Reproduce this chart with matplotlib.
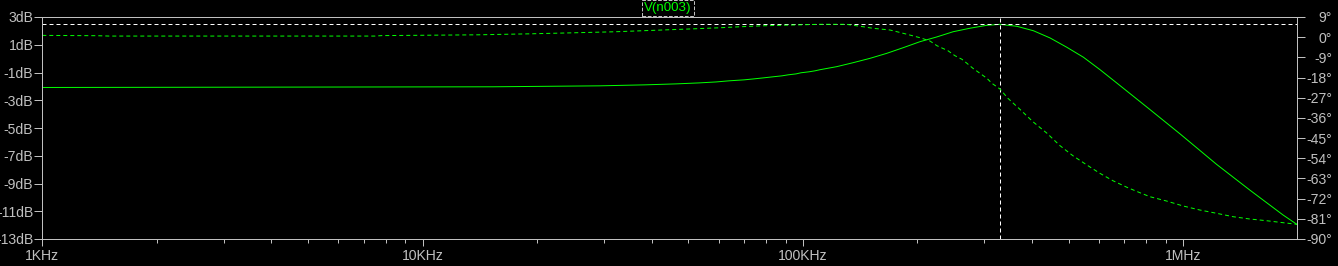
import matplotlib
matplotlib.use('Agg')
import matplotlib.pyplot as plt
from matplotlib.ticker import LogLocator, NullFormatter

# magnitude trace (solid)
freq_mag = [1e3, 15.3e3, 29.3e3, 38.4e3, 46.4e3, 53.3e3, 59.1e3, 63.9e3, 70e3,
            74.3e3, 78.5e3, 83.4e3, 88.1e3, 91.3e3, 95.9e3, 98.8e3, 103.7e3,
            107.5e3, 110.8e3, 122.6e3, 135.6e3, 150e3, 166e3, 183.5e3, 203e3,
            224.6e3, 248.3e3, 274.8e3, 304e3, 329.5e3, 365e3, 403.5e3, 446.3e3,
            493.8e3, 546.1e3, 604.1e3, 668.6e3, 739.5e3, 817.8e3, 904.6e3,
            980.8e3, 1.223e6, 1.495e6, 1.829e6, 1.99e6]
mag_db = [-2.08, -2.03, -1.96, -1.89, -1.82, -1.75, -1.68, -1.60, -1.53,
          -1.46, -1.39, -1.31, -1.24, -1.17, -1.10, -1.02, -0.95,
          -0.88, -0.80, -0.58, -0.29, 0.02, 0.38, 0.79, 1.22,
          1.56, 1.94, 2.19, 2.40, 2.47, 2.33, 2.01, 1.49,
          0.82, 0.10, -0.80, -1.76, -2.72, -3.68, -4.65,
          -5.43, -7.62, -9.47, -11.27, -11.95]

# phase trace (dashed)
freq_phase = [1e3, 1.4e3, 1.5e3, 7.5e3, 7.8e3, 14e3, 19.3e3, 25e3, 31.8e3,
              37.5e3, 44e3, 51.8e3, 60e3, 68e3, 78.3e3, 99e3, 110e3, 130e3,
              143.8e3, 152.8e3, 169.3e3, 176.6e3, 187.7e3, 203e3, 215.7e3,
              225e3, 240.5e3, 250.9e3, 261.8e3, 269.8e3, 279.8e3, 291.9e3,
              304.5e3, 313.9e3, 329.5e3, 345.8e3, 371.8e3, 402.3e3, 437.8e3,
              473.6e3, 512.3e3, 557.7e3, 603.4e3, 652.8e3, 710.6e3, 768.6e3,
              817e3, 903e3, 999e3, 1.105e6, 1.223e6, 1.352e6, 1.495e6,
              1.654e6, 1.829e6, 1.99e6]
phase_deg = [0.8, 0.65, 0.5, 0.5, 0.7, 1.06, 1.51, 1.96, 2.40,
             2.85, 3.29, 3.74, 4.18, 4.63, 5.08, 5.52, 5.74, 5.74,
             4.67, 3.96, 3.20, 2.44, 1.29, -0.23, -1.70,
             -3.80, -6.03, -8.26, -9.86, -11.65, -13.88, -16.11,
             -18.34, -20.57, -23.11, -27.26, -32.16, -37.70, -42.81,
             -48.34, -52.85, -57.0, -60.70, -64.0, -66.94, -69.35,
             -71.14, -73.06, -75.28, -77.07, -78.54, -80.06, -81.08,
             -81.84, -82.73, -83.45]

db_ticks = [3, 1, -1, -3, -5, -7, -9, -11, -13]
db_labels = ['3dB', '1dB', '-1dB', '-3dB', '-5dB', '-7dB', '-9dB', '-11dB', '-13dB']
deg_ticks = [9, 0, -9, -18, -27, -36, -45, -54, -63, -72, -81, -90]
deg_labels = ['9°', '0°', '-9°', '-18°', '-27°', '-36°', '-45°', '-54°',
              '-63°', '-72°', '-81°', '-90°']
f_ticks = [1e3, 1e4, 1e5, 1e6]
f_labels = ['1KHz', '10KHz', '100KHz', '1MHz']
trace_name = 'V(n003)'

GRAY = '#c0c0c0'
GREEN = '#00ff00'
PX = 0.72  # one pixel in points at 100 dpi

plt.rcParams['font.family'] = ['Liberation Sans', 'DejaVu Sans']

fig = plt.figure(figsize=(13.38, 2.66), dpi=100, facecolor='black')
ax = fig.add_axes([42.3 / 1338, 27 / 266, 1254.7 / 1338, 222 / 266])
ax.set_facecolor('black')
ax.set_xscale('log')
ax.set_xlim(1e3, 1.99e6)
ax.set_ylim(-13, 3)

ax2 = ax.twinx()
ax2.set_ylim(-90, 9)

for a in (ax, ax2):
  for sp in a.spines.values():
    sp.set_color(GRAY)
    sp.set_linewidth(PX)

# traces
ax.plot(freq_mag, mag_db, color=GREEN, lw=PX)
ax2.plot(freq_phase, phase_deg, color=GREEN, lw=PX, ls=(0, (4, 3)))

# cursor on the magnitude peak
i_pk = mag_db.index(max(mag_db))
ax.axhline(mag_db[i_pk], color='white', lw=PX, ls=(0, (4, 3)))
ax.axvline(freq_mag[i_pk], color='white', lw=PX, ls=(0, (4, 3)))

# axes ticks
ax.set_xticks(f_ticks, f_labels)
ax.xaxis.set_minor_locator(LogLocator(base=10, subs=[2, 3, 4, 5, 6, 7, 8, 9]))
ax.xaxis.set_minor_formatter(NullFormatter())
ax.set_yticks(db_ticks, db_labels)
ax2.set_yticks(deg_ticks, deg_labels)

ax.tick_params(axis='x', which='major', colors=GRAY, direction='out',
               length=7 * PX, width=PX, labelsize=10.08, pad=3 * PX)
ax.tick_params(axis='x', which='minor', colors=GRAY, direction='out',
               length=4 * PX, width=PX)
ax.tick_params(axis='y', colors=GRAY, direction='out', length=8 * PX,
               width=PX, labelsize=10.08, pad=1 * PX)
ax2.tick_params(axis='y', colors=GRAY, direction='out', length=8 * PX,
                width=PX, labelsize=10.08, pad=27 * PX)
for lab in ax2.get_yticklabels():
  lab.set_horizontalalignment('right')

# trace name on top
fig.text(668 / 1338, 1 - 8 / 266, trace_name, color=GREEN, fontsize=9.6,
         ha='center', va='center',
         bbox=dict(facecolor='black', edgecolor=GRAY, linestyle='--',
                   linewidth=PX, boxstyle='square,pad=0.15'))

plt.savefig('out.png', dpi=100, facecolor='black')
